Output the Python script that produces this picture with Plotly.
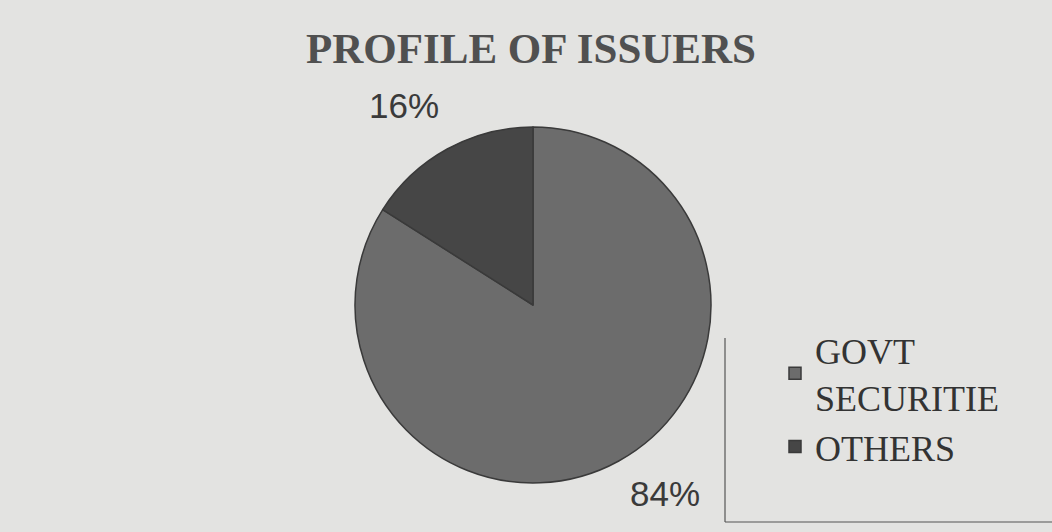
import plotly.graph_objects as go

categories = ["GOVT<br>SECURITIE", "OTHERS"]
values = [84, 16]
colors = ["#6c6c6c", "#464646"]
title_text = "PROFILE OF ISSUERS"
# label anchor points (paper coords) for the percentage labels, in category order
label_pos = [(665 / 1052, 1 - 493 / 532), (404 / 1052, 1 - 105 / 532)]

total = sum(values)

fig = go.Figure()
fig.add_trace(go.Pie(
    labels=categories,
    values=values,
    sort=False,
    direction="clockwise",
    rotation=0,
    marker=dict(colors=colors, line=dict(color="#3a3a3a", width=1.5)),
    textinfo="none",
    domain=dict(x=[(533 - 178) / 1052, (533 + 178) / 1052],
                y=[1 - 483 / 532, 1 - 127 / 532]),
    showlegend=True,
    hoverinfo="label+percent",
))

annotations = []
for v, (px, py) in zip(values, label_pos):
    annotations.append(dict(
        x=px, y=py, xref="paper", yref="paper",
        text=f"{round(100 * v / total)}%", showarrow=False,
        xanchor="center", yanchor="middle",
        font=dict(family="Liberation Sans, Arial", size=35, color="#3a3a3a"),
    ))

fig.update_layout(
    width=1052, height=532,
    paper_bgcolor="#e3e3e1",
    plot_bgcolor="#e3e3e1",
    margin=dict(l=0, r=0, t=0, b=0),
    title=dict(text="<b>" + title_text + "</b>", x=531 / 1052, xanchor="center",
               y=1 - 48 / 532, yanchor="middle",
               font=dict(family="Liberation Serif, Times New Roman", size=43, color="#505050")),
    legend=dict(x=775 / 1052, y=1 - 320 / 532, xanchor="left", yanchor="top",
                bgcolor="rgba(0,0,0,0)",
                font=dict(family="Liberation Serif, Times New Roman", size=36, color="#333333"),
                itemwidth=30, tracegroupgap=0),
    annotations=annotations,
    shapes=[
        dict(type="line", xref="paper", yref="paper",
             x0=725 / 1052, x1=725 / 1052, y0=1 - 338 / 532, y1=1 - 522 / 532,
             line=dict(color="#555555", width=1.2)),
        dict(type="line", xref="paper", yref="paper",
             x0=725 / 1052, x1=1.0, y0=1 - 522 / 532, y1=1 - 522 / 532,
             line=dict(color="#555555", width=1.2)),
    ],
)

fig.write_html("out.html", config={"displayModeBar": False},
               post_script="document.body.style.margin='0';")
